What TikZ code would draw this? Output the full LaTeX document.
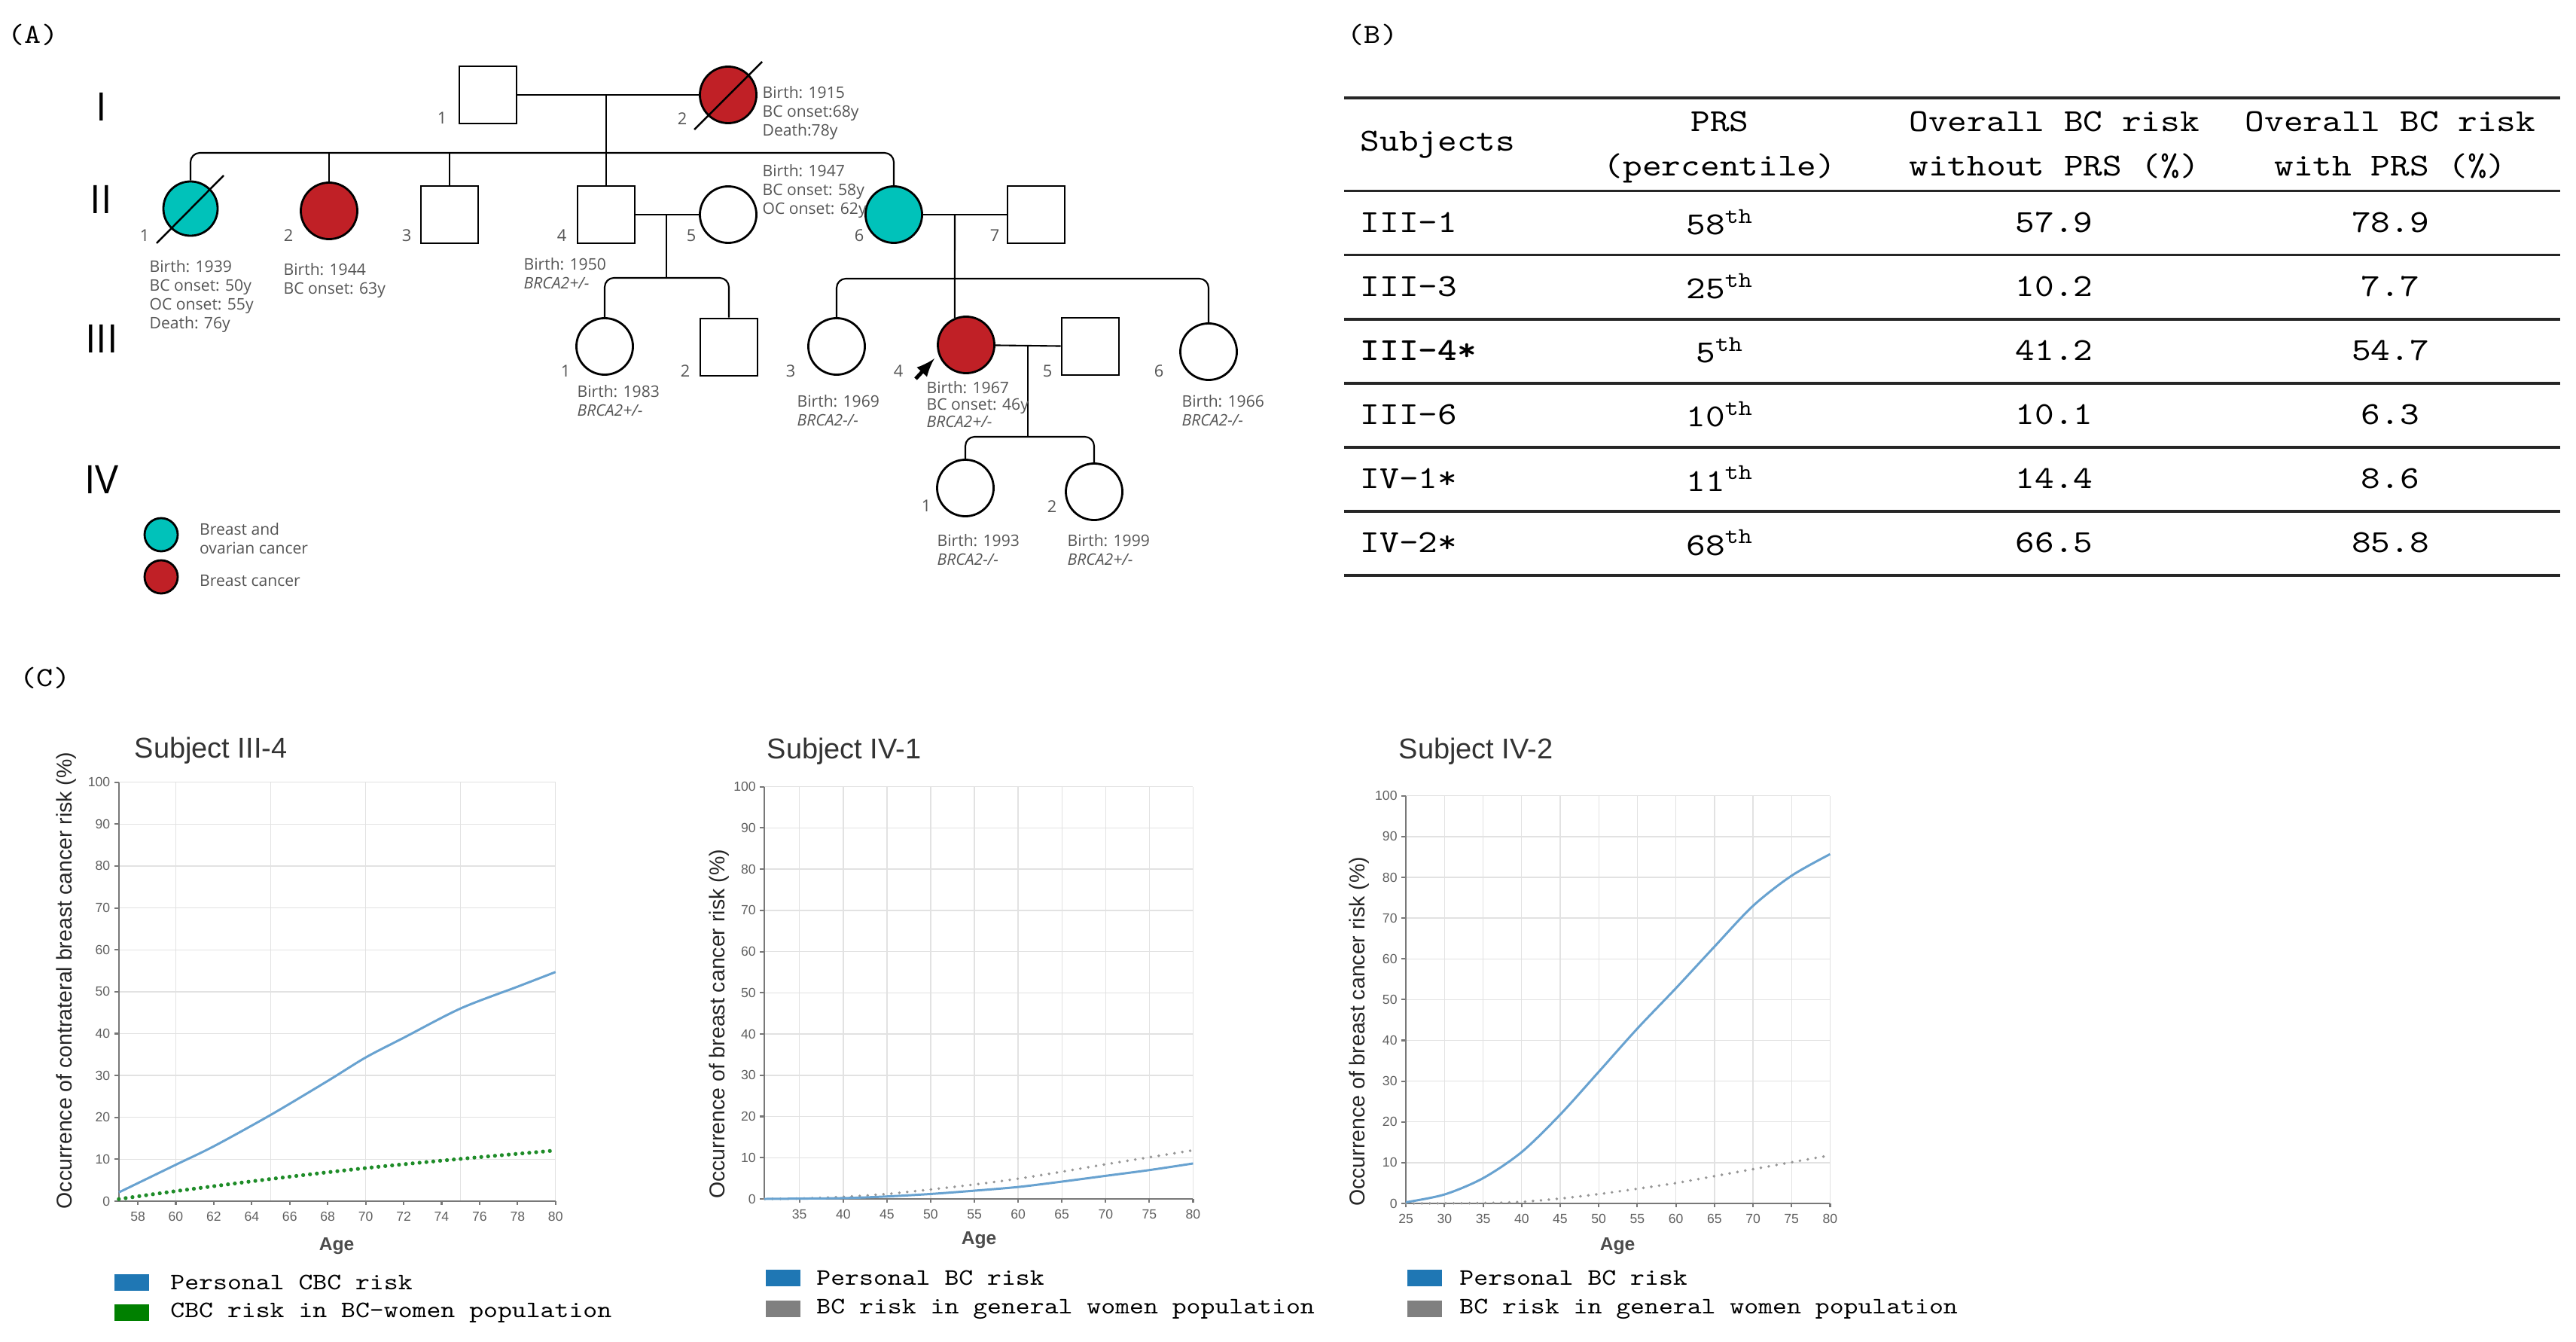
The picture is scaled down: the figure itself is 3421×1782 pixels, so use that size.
\documentclass[tikz,border=0pt]{standalone}
\usepackage{fontspec}
\newfontfamily\pedfont{Open Sans}
\newfontfamily\chartfont{Liberation Sans}
\newfontfamily\courfont{lmmono10-regular.otf}[FakeStretch=1.15, BoldFont=lmmonolt10-bold.otf]
\newcommand\tabfont{\courfont\fontsize{12.1}{16.8}\selectfont}
\newcommand\headcell[2]{\begin{tabular}{@{}c@{}}#1\\#2\end{tabular}}
\usetikzlibrary{matrix,arrows,positioning}

\definecolor{bcred}{RGB}{192,32,38}
\definecolor{bocyan}{RGB}{0,194,186}
\definecolor{pedgrey}{RGB}{85,85,85}
\definecolor{riskblue}{RGB}{104,162,208}
\definecolor{keyblue}{RGB}{31,119,180}
\definecolor{keygreen}{RGB}{0,128,0}
\definecolor{popgreen}{RGB}{30,140,40}
\definecolor{popgrey}{RGB}{150,150,150}
\definecolor{gridgrey}{RGB}{226,226,226}
\definecolor{axisgrey}{RGB}{120,120,120}
\definecolor{tickgrey}{RGB}{95,95,95}

\tikzset{
  male/.style={draw, line width=0.8pt, minimum size=0.76cm, inner sep=0pt},
  female/.style={circle, draw, line width=0.8pt, minimum size=0.75cm, inner sep=0pt},
  bc/.style={fill=bcred},
  boc/.style={fill=bocyan},
  kin/.style={line width=0.6pt},
  dead/.style={line width=0.7pt},
  info/.style={font=\pedfont\fontsize{6}{7.1}\selectfont, text=pedgrey, align=left, anchor=north west, inner sep=0pt},
  num/.style={font=\pedfont\fontsize{6.2}{7}\selectfont, text=pedgrey, inner sep=0pt},
  gen/.style={font=\pedfont\fontsize{14.8}{16}\selectfont, inner sep=0pt},
  panel/.style={font=\courfont\fontsize{10.4}{12}\selectfont, inner sep=0pt},
  rule/.style={line width=1.1pt, black!85},
  gridline/.style={line width=0.4pt, gridgrey},
  axisline/.style={line width=0.6pt, axisgrey},
  ticklab/.style={font=\chartfont\fontsize{5}{6}\selectfont, text=tickgrey, inner sep=0pt},
  ctitle/.style={font=\chartfont\fontsize{10.8}{12}\selectfont, text=black!80, inner sep=0pt, anchor=base west},
  ylab/.style={font=\chartfont\fontsize{8.1}{9}\selectfont, text=black!85, inner sep=0pt, rotate=90},
  agelab/.style={font=\chartfont\bfseries\fontsize{7}{8}\selectfont, text=black!70, inner sep=0pt, anchor=base},
  personal/.style={riskblue, line width=0.85pt},
  popdots/.style={line cap=round, dash pattern=on 0pt off 3pt},
  keybox/.style={minimum width=0.46cm, minimum height=0.22cm, inner sep=0pt},
  keytext/.style={font=\courfont\fontsize{8.9}{10}\selectfont, inner sep=0pt},
}

\begin{document}
\begin{tikzpicture}[x=0.01cm, y=-0.01cm, >=latex]
\useasboundingbox (0,0) rectangle (3421,1782);
\fill[white] (0,0) rectangle (3421,1782);

% panel letters
\node[panel] (pa) at (44,46) {(A)};
\node[panel] (pb) at (1823,46) {(B)};
\node[panel] (pc) at (60,900) {(C)};

% (A) pedigree
\node[gen] (g1) at (135,142) {I};
\node[gen] (g2) at (134,265) {II};
\node[gen] (g3) at (135,450) {III};
\node[gen] (g4) at (135,637) {IV};

\node[male] (i1) at (648,126) {};
\node[female, bc] (i2) at (967,126) {};
\node[female, boc, minimum size=0.72cm] (ii1) at (253,277) {};
\node[female, bc] (ii2) at (437,280) {};
\node[male] (ii3) at (597,285) {};
\node[male] (ii4) at (805,285) {};
\node[female] (ii5) at (967,285) {};
\node[female, boc] (ii6) at (1187,285) {};
\node[male] (ii7) at (1376,285) {};
\node[female] (iii1) at (803,460) {};
\node[male] (iii2) at (968,461) {};
\node[female] (iii3) at (1111,460) {};
\node[female, bc] (iii4) at (1283,458) {};
\node[male] (iii5) at (1448,460) {};
\node[female] (iii6) at (1605,467) {};
\node[female] (iv1) at (1282,648) {};
\node[female] (iv2) at (1453,653) {};

\draw[dead] ([shift={(-45,46)}]i2.center) -- ([shift={(45,-44)}]i2.center);
\draw[dead] ([shift={(-45,46)}]ii1.center) -- ([shift={(44,-44)}]ii1.center);

\coordinate (s2) at (0,203);
\coordinate (s3a) at (0,369);
\coordinate (s3b) at (0,370);
\coordinate (s4) at (0,580);
\coordinate (m2) at (885,285);
\coordinate (m3) at (1268,285);
\coordinate (m4) at (1365,460);

\draw[kin] (i1) -- (i2);
\draw[kin] (ii4 |- i1) -- (ii4);
\draw[kin, rounded corners=3.5pt] (ii1) -- (ii1 |- s2) -- (ii6 |- s2) -- (ii6);
\draw[kin] (ii2) -- (ii2 |- s2);
\draw[kin] (ii3) -- (ii3 |- s2);
\draw[kin] (ii4) -- (ii5);
\draw[kin] (m2) -- (m2 |- s3a);
\draw[kin, rounded corners=3.5pt] (iii1) -- (iii1 |- s3a) -- (iii2 |- s3a) -- (iii2);
\draw[kin] (ii6) -- (ii7);
\draw[kin] (m3) -- (iii4.113);
\draw[kin, rounded corners=3.5pt] (iii3) -- (iii3 |- s3b) -- (iii6 |- s3b) -- (iii6);
\draw[kin] (iii4) -- (iii5);
\draw[kin] (m4) -- (m4 |- s4);
\draw[kin, rounded corners=3.5pt] (iv1) -- (iv1 |- s4) -- (iv2 |- s4) -- (iv2);

% proband
\coordinate (pr1) at (1216,503);
\coordinate (pr2) at (1241,476);
\draw[->, line width=1.4pt] (pr1) -- (pr2);

% numbers
\node[num] (n-i1) at (587,157) {1};
\node[num] (n-i2) at (906,158) {2};
\node[num] (n-ii1) at (192,313) {1};
\node[num] (n-ii2) at (383,313) {2};
\node[num] (n-ii3) at (540,313) {3};
\node[num] (n-ii4) at (746,313) {4};
\node[num] (n-ii5) at (918,313) {5};
\node[num] (n-ii6) at (1141,313) {6};
\node[num] (n-ii7) at (1321,313) {7};
\node[num] (n-iii1) at (751,493) {1};
\node[num] (n-iii2) at (910,493) {2};
\node[num] (n-iii3) at (1050,493) {3};
\node[num] (n-iii4) at (1193,493) {4};
\node[num] (n-iii5) at (1391,493) {5};
\node[num] (n-iii6) at (1539,493) {6};
\node[num] (n-iv1) at (1230,672) {1};
\node[num] (n-iv2) at (1397,673) {2};

% details
\node[info] (t-i2) at (1012,114) {Birth: 1915\\BC onset:68y\\Death:78y};
\node[info] (t-ii1) at (198,345) {Birth: 1939\\BC onset: 50y\\OC onset: 55y\\Death: 76y};
\node[info] (t-ii2) at (376,349) {Birth: 1944\\BC onset: 63y};
\node[info] (t-ii4) at (695,342) {Birth: 1950\\\textit{BRCA2+/-}};
\node[info] (t-ii6) at (1012,218) {Birth: 1947\\BC onset: 58y\\OC onset: 62y};
\node[info] (t-iii1) at (766,511) {Birth: 1983\\\textit{BRCA2+/-}};
\node[info] (t-iii3) at (1058,524) {Birth: 1969\\\textit{BRCA2-/-}};
\node[info, font=\pedfont\fontsize{6}{6.3}\selectfont] (t-iii4) at (1230,506) {Birth: 1967\\BC onset: 46y\\\textit{BRCA2+/-}};
\node[info] (t-iii6) at (1569,524) {Birth: 1966\\\textit{BRCA2-/-}};
\node[info] (t-iv1) at (1244,709) {Birth: 1993\\\textit{BRCA2-/-}};
\node[info] (t-iv2) at (1417,709) {Birth: 1999\\\textit{BRCA2+/-}};

% key
\node[female, boc, minimum size=0.44cm] (k1) at (214,710) {};
\node[female, bc, minimum size=0.44cm] (k2) at (214,766) {};
\node[info, right=0.27cm of k1, yshift=-0.05cm] (k1t) {Breast and\\ovarian cancer};
\node[info, right=0.27cm of k2, yshift=-0.05cm] (k2t) {Breast cancer};

% (B) table
\matrix (tab) [matrix of nodes, anchor=north west, inner sep=0pt,
  column sep=0pt, row sep=0pt,
  nodes={font=\tabfont, anchor=center, inner sep=0pt, minimum height=0.85cm},
  column 1/.style={nodes={text width=2.33cm, inner xsep=0.21cm, align=left}},
  column 2/.style={nodes={minimum width=4.46cm}},
  column 3/.style={nodes={minimum width=4.42cm}},
  column 4/.style={nodes={minimum width=4.50cm}},
  row 1/.style={nodes={minimum height=1.22cm}}]
  at (1785,130) {
Subjects & \headcell{PRS}{(percentile)} & \headcell{Overall BC risk}{without PRS (\%)} & \headcell{Overall BC risk}{with PRS (\%)} \\
III–1 & 58\textsuperscript{th} & 57.9 & 78.9 \\
III–3 & 25\textsuperscript{th} & 10.2 & 7.7 \\
\textbf{III–4*} & 5\textsuperscript{th} & 41.2 & 54.7 \\
III–6 & 10\textsuperscript{th} & 10.1 & 6.3 \\
IV–1* & 11\textsuperscript{th} & 14.4 & 8.6 \\
IV–2* & 68\textsuperscript{th} & 66.5 & 85.8 \\
};
\draw[rule] (tab-1-1.north west) -- (tab-1-4.north east);
\foreach \r in {1,...,7}
  \draw[rule] (tab-\r-1.south west) -- (tab-\r-4.south east);

% (C) Subject III-4
\node[ctitle] (ct1) at (178,1006) {Subject III-4};
\node[ylab] (yl1) at (88,1302) {Occurrence of contrateral breast cancer risk (\%)};
\node[agelab] (age1) at (447,1660) {Age};
\begin{scope}[shift={(-1279.4,1595)}, x=0.252cm, y=0.0556cm]
  \foreach \yr in {60,65,...,80} \draw[gridline] (\yr,0) -- (\yr,100);
  \foreach \val in {10,20,...,100} \draw[gridline] (57,\val) -- (80,\val);
  \draw[axisline] (57,100) -- (57,0) -- (80,0);
  \foreach \val in {0,10,...,100} {
    \draw[axisline] (57,\val) -- +(-1.7pt,0pt);
    \node[ticklab, anchor=east] (ca\val) at ([xshift=-3.1pt]57,\val) {\val};
  }
  \foreach \yr in {58,60,...,80} {
    \draw[axisline] (\yr,0) -- +(0pt,-1.5pt);
    \node[ticklab, anchor=north] (cb\yr) at ([yshift=-3.8pt]\yr,0) {\yr};
  }
  \draw[personal] plot[smooth] coordinates {(57,2.1) (60,8.7) (62,13.1) (65,20.6) (68,28.7) (70,34.3) (72,39) (75,46) (78,51.2) (80,54.7)};
  \draw[popdots, popgreen, line width=1.5pt, dash pattern=on 0pt off 2.6pt] plot[smooth] coordinates {(57,0.5) (60,2.4) (65,5.3) (70,7.9) (75,10.1) (80,12.1)};
\end{scope}
\node[keybox, fill=keyblue] (kb1) at (175,1703) {};
\node[keybox, fill=keygreen, below=0.17cm of kb1] (kg1) {};
\node[keytext, right=0.27cm of kb1] (kt1) {Personal CBC risk};
\node[keytext, right=0.27cm of kg1] (kt2) {CBC risk in BC-women population};

% (C) Subject IV-1
\node[ctitle] (ct2) at (1018,1007) {Subject IV-1};
\node[ylab] (yl2) at (955,1360) {Occurrence of breast cancer risk (\%)};
\node[agelab] (age2) at (1300,1652) {Age};
\begin{scope}[shift={(655.1,1592)}, x=0.1161cm, y=0.0547cm]
  \foreach \yr in {35,40,...,80} \draw[gridline] (\yr,0) -- (\yr,100);
  \foreach \val in {10,20,...,100} \draw[gridline] (31,\val) -- (80,\val);
  \draw[axisline] (31,100) -- (31,0) -- (80,0);
  \foreach \val in {0,10,...,100} {
    \draw[axisline] (31,\val) -- +(-1.7pt,0pt);
    \node[ticklab, anchor=east] (da\val) at ([xshift=-3.1pt]31,\val) {\val};
  }
  \foreach \yr in {35,40,...,80} {
    \draw[axisline] (\yr,0) -- +(0pt,-1.5pt);
    \node[ticklab, anchor=north] (db\yr) at ([yshift=-3.8pt]\yr,0) {\yr};
  }
  \draw[popdots, popgrey, line width=1.1pt] plot[smooth] coordinates {(31,0) (35,0.1) (40,0.5) (45,1.2) (50,2.3) (55,3.5) (60,4.9) (65,6.6) (70,8.4) (75,10.1) (80,11.8)};
  \draw[personal] plot[smooth] coordinates {(31,0) (40,0.2) (45,0.6) (50,1.2) (55,2) (60,2.9) (65,4.2) (70,5.6) (75,7) (80,8.6)};
\end{scope}
\node[keybox, fill=keyblue] (kb2) at (1040,1697) {};
\node[keybox, fill=gray, below=0.18cm of kb2] (kg2) {};
\node[keytext, right=0.2cm of kb2] (kt3) {Personal BC risk};
\node[keytext, right=0.2cm of kg2] (kt4) {BC risk in general women population};

% (C) Subject IV-2
\node[ctitle] (ct3) at (1857,1007) {Subject IV-2};
\node[ylab] (yl3) at (1805,1370) {Occurrence of breast cancer risk (\%)};
\node[agelab] (age3) at (2148,1660) {Age};
\begin{scope}[shift={(1611.1,1598)}, x=0.10236cm, y=0.0541cm]
  \foreach \yr in {30,35,...,80} \draw[gridline] (\yr,0) -- (\yr,100);
  \foreach \val in {10,20,...,100} \draw[gridline] (25,\val) -- (80,\val);
  \draw[axisline] (25,100) -- (25,0) -- (80,0);
  \foreach \val in {0,10,...,100} {
    \draw[axisline] (25,\val) -- +(-1.7pt,0pt);
    \node[ticklab, anchor=east] (ea\val) at ([xshift=-3.1pt]25,\val) {\val};
  }
  \foreach \yr in {25,30,...,80} {
    \draw[axisline] (\yr,0) -- +(0pt,-1.5pt);
    \node[ticklab, anchor=north] (eb\yr) at ([yshift=-3.8pt]\yr,0) {\yr};
  }
  \draw[popdots, popgrey, line width=1.1pt] plot[smooth] coordinates {(25,0) (35,0.1) (40,0.4) (45,1.2) (50,2.3) (55,3.6) (60,5) (65,6.7) (70,8.4) (75,10.1) (80,11.8)};
  \draw[personal] plot[smooth] coordinates {(25,0.3) (30,2.2) (35,6.2) (40,12.6) (45,21.8) (50,32.3) (55,42.9) (60,52.8) (65,63) (70,73) (75,80.4) (80,85.7)};
\end{scope}
\node[keybox, fill=keyblue] (kb3) at (1892,1697) {};
\node[keybox, fill=gray, below=0.18cm of kb3] (kg3) {};
\node[keytext, right=0.22cm of kb3] (kt5) {Personal BC risk};
\node[keytext, right=0.22cm of kg3] (kt6) {BC risk in general women population};
\end{tikzpicture}
\end{document}
